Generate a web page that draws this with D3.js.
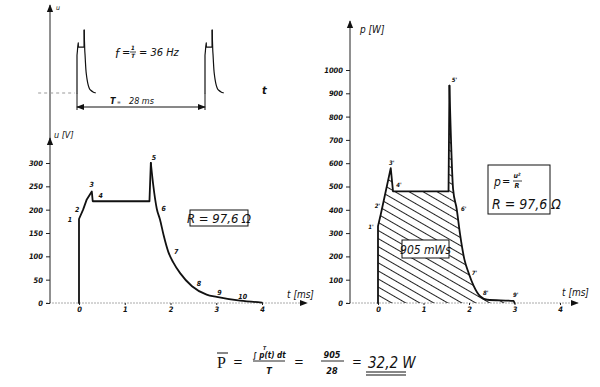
<!DOCTYPE html>
<head>
  <meta charset="utf-8">
  <title>Spannung und Leistung</title>
  <script src="https://d3js.org/d3.v7.min.js"></script>
  <style>
    body { margin: 0; background: #fff; }
    text { font-family: "Liberation Sans Narrow", "DejaVu Sans Condensed", sans-serif; font-style: italic; fill: #111; }
    .tick text { font-weight: bold; font-size: 7.5px; }
    .tick line { stroke: #222; }
  </style>
</head>
<body>
  <div id="chart"></div>
  <script>
    // Spannungsverlauf u(t): Zeit in ms, Spannung in V
    var uTime  = [0, 0, 0.09, 0.17, 0.28, 0.30, 1.54, 1.57, 1.62, 1.70, 1.77, 1.85, 1.95, 2.06, 2.21, 2.47, 2.79, 3.01, 3.52, 4.0];
    var uValue = [0, 180, 200, 222, 239, 218, 218, 300, 255, 202, 179, 145, 110, 87, 64, 36, 18, 13, 5, 1];

    // Leistung p(t) = u^2 / R in W
    var pTime  = [0, 0, 0.06, 0.16, 0.28, 0.33, 1.55, 1.57, 1.65, 1.73, 1.80, 1.90, 1.99, 2.10, 2.25, 2.40, 2.98, 3.0];
    var pValue = [0, 330, 380, 470, 579, 479, 479, 933, 490, 403, 300, 186, 130, 75, 28, 14, 9, 0];

    // Achsenbeschriftungen
    var uTicks = [0, 50, 100, 150, 200, 250, 300];
    var pTicks = [0, 100, 200, 300, 400, 500, 600, 700, 800, 900, 1000];
    var tTicks = [0, 1, 2, 3, 4];

    // Punktnummern an den Kurven
    var uMarkName = ['1', '2', '3', '4', '5', '6', '7', '8', '9', '10'];
    var uMarkT    = [0, 0.09, 0.28, 0.30, 1.57, 1.70, 1.95, 2.47, 2.94, 3.49];
    var uMarkU    = [180, 200, 239, 218, 300, 202, 110, 36, 12, 5];
    var pMarkName = ["1'", "2'", "3'", "4'", "5'", "6'", "7'", "8'", "9'"];
    var pMarkT    = [0, 0.1, 0.28, 0.33, 1.57, 1.73, 1.99, 2.3, 2.98];
    var pMarkP    = [330, 420, 579, 479, 933, 403, 130, 20, 9];

    var period = 28;        // ms
    var frequency = 36;     // Hz
    var energy = 905;       // mWs
    var meanPower = '32,2'; // W

    var width = 600, height = 387;
    var svg = d3.select('#chart').append('svg')
      .attr('width', width).attr('height', height);

    var defs = svg.append('defs');
    defs.append('marker')
        .attr('id', 'arrow').attr('viewBox', '0 0 10 10')
        .attr('refX', 9).attr('refY', 5)
        .attr('markerWidth', 8).attr('markerHeight', 8)
        .attr('markerUnits', 'userSpaceOnUse')
        .attr('orient', 'auto-start-reverse')
      .append('path').attr('d', 'M0,1 L10,5 L0,9 Z').attr('fill', '#111');
    defs.append('pattern')
        .attr('id', 'hatch').attr('patternUnits', 'userSpaceOnUse')
        .attr('width', 10).attr('height', 7)
        .attr('patternTransform', 'rotate(30)')
      .append('line')
        .attr('x1', -1).attr('y1', 3.5).attr('x2', 11).attr('y2', 3.5)
        .attr('stroke', '#222').attr('stroke-width', 1);

    var uPts = uTime.map(function (t, i) { return [t, uValue[i]]; });
    var pPts = pTime.map(function (t, i) { return [t, pValue[i]]; });
    var intFmt = d3.format('d');

    // Kurve bis zur Spitze geradlinig, danach glatt abklingend
    function curvePath(g, pts, x, y, split, width, color) {
      var parts = [pts.slice(0, split + 1), pts.slice(split)];
      var gens = [d3.curveLinear, d3.curveMonotoneX];
      parts.forEach(function (part, k) {
        g.append('path').datum(part)
          .attr('d', d3.line().curve(gens[k])
            .x(function (d) { return x(d[0]); }).y(function (d) { return y(d[1]); }))
          .attr('fill', 'none').attr('stroke', color).attr('stroke-width', width)
          .attr('stroke-linejoin', 'round').attr('stroke-linecap', 'round');
      });
    }
    function curveArea(g, pts, x, y, split, fill) {
      var parts = [pts.slice(0, split + 1), pts.slice(split)];
      var gens = [d3.curveLinear, d3.curveMonotoneX];
      parts.forEach(function (part, k) {
        g.append('path').datum(part)
          .attr('d', d3.area().curve(gens[k])
            .x(function (d) { return x(d[0]); })
            .y0(y(0)).y1(function (d) { return y(d[1]); }))
          .attr('fill', fill);
      });
    }

    // ---------- oberes Bild: Impulsfolge ----------
    var xT = d3.scaleLinear().domain([0, period]).range([77, 205]);
    var yT = d3.scaleLinear().domain([0, 300]).range([93, 30]);

    svg.append('line').attr('x1', 50).attr('x2', 50).attr('y1', 140).attr('y2', 5)
      .attr('stroke', '#222').attr('stroke-width', 1).attr('marker-end', 'url(#arrow)');
    svg.append('text').attr('x', 56).attr('y', 10).style('font-size', '7px').text('u');
    svg.append('line')
      .attr('x1', xT(-8.5)).attr('x2', xT(-0.5)).attr('y1', yT(0)).attr('y2', yT(0))
      .attr('stroke', '#999').attr('stroke-dasharray', '3,3');

    [0, period].forEach(function (off) {
      curvePath(svg, uPts.map(function (d) { return [d[0] + off, d[1]]; }), xT, yT, 7, 1.2, '#111');
      svg.append('line')
        .attr('x1', xT(off)).attr('x2', xT(off)).attr('y1', yT(0)).attr('y2', 110)
        .attr('stroke', '#111').attr('stroke-width', 1);
    });
    svg.append('line')
      .attr('x1', xT(0)).attr('x2', xT(period)).attr('y1', 107).attr('y2', 107)
      .attr('stroke', '#111').attr('stroke-width', 1)
      .attr('marker-start', 'url(#arrow)').attr('marker-end', 'url(#arrow)');
    svg.append('text').attr('x', 110).attr('y', 104).style('font-size', '9px')
      .style('font-weight', 'bold').text('T');
    svg.append('text').attr('x', 117).attr('y', 104).style('font-size', '5px').text('=');
    svg.append('text').attr('x', 129).attr('y', 104).style('font-size', '9px').text(period + ' ms');
    svg.append('text').attr('x', 262).attr('y', 94).style('font-size', '11px')
      .style('font-weight', 'bold').text('t');

    // f = 1/T = 36 Hz
    svg.append('text').attr('x', 115).attr('y', 58).style('font-size', '13px').text('f');
    svg.append('text').attr('x', 122).attr('y', 56).style('font-size', '11px').text('=');
    svg.append('text').attr('x', 133).attr('y', 50).style('font-size', '6px')
      .style('font-weight', 'bold').attr('text-anchor', 'middle').text('1');
    svg.append('line').attr('x1', 130).attr('x2', 136).attr('y1', 52).attr('y2', 52)
      .attr('stroke', '#111').attr('stroke-width', 0.8);
    svg.append('text').attr('x', 133).attr('y', 58).style('font-size', '6px')
      .style('font-weight', 'bold').attr('text-anchor', 'middle').text('T');
    svg.append('text').attr('x', 139).attr('y', 56).style('font-size', '11px')
      .text('= ' + frequency + ' Hz');

    // ---------- linkes Bild: u(t) ----------
    var xL = d3.scaleLinear().domain([0, 4]).range([79, 262]);
    var yL = d3.scaleLinear().domain([0, 300]).range([303, 163]);

    svg.append('line').attr('x1', 46).attr('x2', 307).attr('y1', yL(0)).attr('y2', yL(0))
      .attr('stroke', '#aaa').attr('stroke-width', 1).attr('stroke-dasharray', '2,1')
      .attr('marker-end', 'url(#arrow)');
    svg.append('line').attr('x1', 50).attr('x2', 50).attr('y1', yL(0)).attr('y2', 138)
      .attr('stroke', '#222').attr('stroke-width', 1).attr('marker-end', 'url(#arrow)');

    var gyL = svg.append('g').attr('transform', 'translate(50,0)')
      .call(d3.axisLeft(yL).tickValues(uTicks).tickFormat(intFmt).tickSize(4).tickPadding(3));
    gyL.select('.domain').remove();
    var gxL = svg.append('g').attr('transform', 'translate(0,' + yL(0) + ')')
      .call(d3.axisBottom(xL).tickValues(tTicks).tickFormat(intFmt).tickSize(2).tickPadding(2));
    gxL.select('.domain').remove();

    svg.append('text').attr('x', 54).attr('y', 138).style('font-size', '9px').text('u [V]');
    svg.append('text').attr('x', 287).attr('y', 298).style('font-size', '10px').text('t [ms]');

    curvePath(svg, uPts, xL, yL, 7, 1.8, '#111');

    var uOff = [[-9, 3], [-6, 2], [0, -4], [8, -3], [3, -3], [7, 2], [8, 2], [7, 0], [6, -2], [4, -2]];
    svg.append('g').selectAll('text').data(uMarkName).enter().append('text')
      .attr('x', function (d, i) { return xL(uMarkT[i]) + uOff[i][0]; })
      .attr('y', function (d, i) { return yL(uMarkU[i]) + uOff[i][1]; })
      .attr('text-anchor', 'middle').style('font-size', '7px').style('font-weight', 'bold')
      .text(function (d) { return d; });

    svg.append('rect').attr('x', 190).attr('y', 210).attr('width', 58).attr('height', 16)
      .attr('fill', 'none').attr('stroke', '#111').attr('stroke-width', 1);
    svg.append('text').attr('x', 219).attr('y', 223).attr('text-anchor', 'middle')
      .style('font-size', '13px').text('R = 97,6 Ω');

    // ---------- rechtes Bild: p(t) ----------
    var xR = d3.scaleLinear().domain([0, 4]).range([378, 560]);
    var yR = d3.scaleLinear().domain([0, 1000]).range([303, 70]);

    svg.append('line').attr('x1', 346).attr('x2', 578).attr('y1', yR(0)).attr('y2', yR(0))
      .attr('stroke', '#aaa').attr('stroke-width', 1).attr('stroke-dasharray', '2,1')
      .attr('marker-end', 'url(#arrow)');
    svg.append('line').attr('x1', 350).attr('x2', 350).attr('y1', yR(0)).attr('y2', 21)
      .attr('stroke', '#222').attr('stroke-width', 1).attr('marker-end', 'url(#arrow)');

    var gyR = svg.append('g').attr('transform', 'translate(350,0)')
      .call(d3.axisLeft(yR).tickValues(pTicks).tickFormat(intFmt).tickSize(4).tickPadding(3));
    gyR.select('.domain').remove();
    var gxR = svg.append('g').attr('transform', 'translate(0,' + yR(0) + ')')
      .call(d3.axisBottom(xR).tickValues(tTicks).tickFormat(intFmt).tickSize(2).tickPadding(2));
    gxR.select('.domain').remove();

    svg.append('text').attr('x', 360).attr('y', 33).style('font-size', '10px').text('p [W]');
    svg.append('text').attr('x', 562).attr('y', 296).style('font-size', '10px').text('t [ms]');

    curveArea(svg, pPts, xR, yR, 7, 'url(#hatch)');
    curvePath(svg, pPts, xR, yR, 7, 1.8, '#111');

    var pOff = [[-7, 3], [-5, 3], [1, -3], [6, -4], [5, -4], [7, 2], [6, 2], [3, -3], [2, -4]];
    svg.append('g').selectAll('text').data(pMarkName).enter().append('text')
      .attr('x', function (d, i) { return xR(pMarkT[i]) + pOff[i][0]; })
      .attr('y', function (d, i) { return yR(pMarkP[i]) + pOff[i][1]; })
      .attr('text-anchor', 'middle').style('font-size', '6px').style('font-weight', 'bold')
      .text(function (d) { return d; });

    svg.append('rect').attr('x', 402).attr('y', 240).attr('width', 47).attr('height', 18)
      .attr('fill', '#fff').attr('stroke', '#111').attr('stroke-width', 1);
    svg.append('text').attr('x', 425.5).attr('y', 254).attr('text-anchor', 'middle')
      .style('font-size', '12px').text(energy + ' mWs');

    svg.append('rect').attr('x', 488).attr('y', 165).attr('width', 62).attr('height', 49)
      .attr('fill', 'none').attr('stroke', '#111').attr('stroke-width', 1);
    svg.append('text').attr('x', 494).attr('y', 186).style('font-size', '12px').text('p');
    svg.append('text').attr('x', 502).attr('y', 185).style('font-size', '11px').text('=');
    svg.append('text').attr('x', 517).attr('y', 178).attr('text-anchor', 'middle')
      .style('font-size', '7px').style('font-weight', 'bold').text('u²');
    svg.append('line').attr('x1', 513).attr('x2', 522).attr('y1', 181).attr('y2', 181)
      .attr('stroke', '#111').attr('stroke-width', 0.8);
    svg.append('text').attr('x', 517).attr('y', 188).attr('text-anchor', 'middle')
      .style('font-size', '7px').style('font-weight', 'bold').text('R');
    svg.append('text').attr('x', 492).attr('y', 209).style('font-size', '14px').text('R = 97,6 Ω');

    // ---------- Formel unten ----------
    var f = svg.append('g');
    f.append('text').attr('x', 217).attr('y', 368)
      .style('font-family', '"Liberation Serif", serif').style('font-style', 'normal')
      .style('font-size', '16px').text('P');
    f.append('line').attr('x1', 217).attr('x2', 228).attr('y1', 353).attr('y2', 353)
      .attr('stroke', '#111').attr('stroke-width', 1);
    f.append('text').attr('x', 233).attr('y', 366).style('font-size', '13px').text('=');
    f.append('line').attr('x1', 253).attr('x2', 285).attr('y1', 361).attr('y2', 361)
      .attr('stroke', '#111').attr('stroke-width', 0.9);
    f.append('text').attr('x', 269).attr('y', 358).attr('text-anchor', 'middle')
      .style('font-size', '8px').style('font-weight', 'bold').text('∫ p(t) dt');
    f.append('text').attr('x', 263).attr('y', 350).style('font-size', '5px')
      .style('font-weight', 'bold').text('T');
    f.append('text').attr('x', 269).attr('y', 374).attr('text-anchor', 'middle')
      .style('font-size', '9px').style('font-weight', 'bold').text('T');
    f.append('text').attr('x', 294).attr('y', 366).style('font-size', '13px').text('=');
    f.append('line').attr('x1', 321).attr('x2', 344).attr('y1', 361).attr('y2', 361)
      .attr('stroke', '#111').attr('stroke-width', 0.9);
    f.append('text').attr('x', 332).attr('y', 358).attr('text-anchor', 'middle')
      .style('font-size', '9px').style('font-weight', 'bold').text(energy);
    f.append('text').attr('x', 332).attr('y', 374).attr('text-anchor', 'middle')
      .style('font-size', '9px').style('font-weight', 'bold').text(period);
    f.append('text').attr('x', 352).attr('y', 366).style('font-size', '13px').text('=');
    f.append('text').attr('x', 368).attr('y', 368).style('font-size', '15px')
      .text(meanPower + ' W');
    [372, 375].forEach(function (yy) {
      f.append('line').attr('x1', 366).attr('x2', 406).attr('y1', yy).attr('y2', yy)
        .attr('stroke', '#111').attr('stroke-width', 1.2);
    });
  </script>
</body>
